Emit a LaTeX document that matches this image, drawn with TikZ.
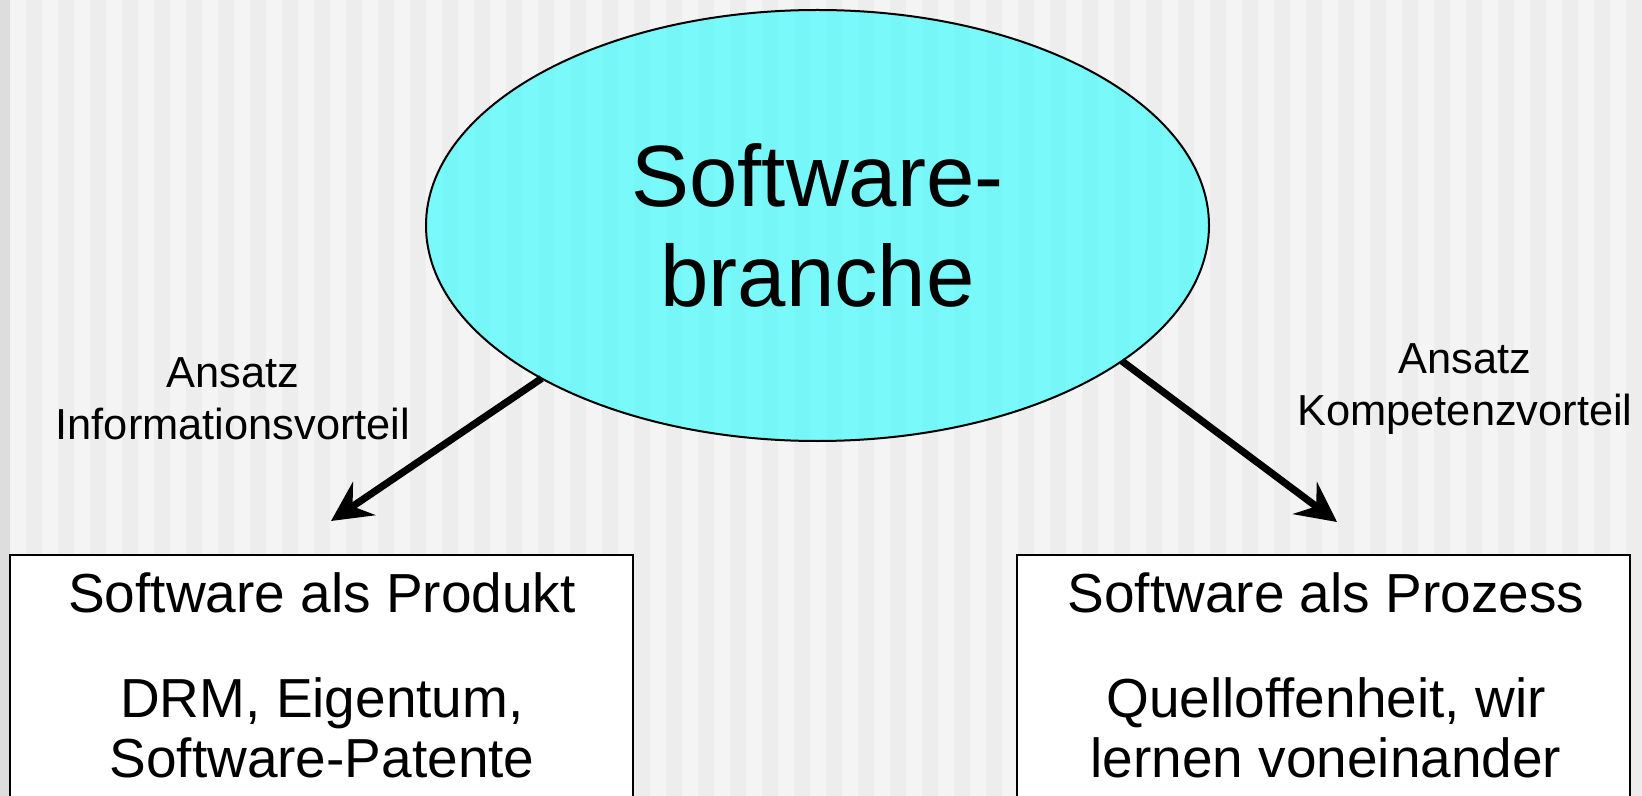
\documentclass[tikz,border=0pt]{standalone}
\usepackage{fontspec}
\setmainfont{Liberation Sans}
\usetikzlibrary{arrows.meta,shapes.geometric}
\definecolor{bglight}{HTML}{F4F4F4}
\definecolor{bgdark}{HTML}{EDEDED}
\definecolor{bgedge}{HTML}{DDDDDD}
\definecolor{aqua}{RGB}{0,255,255}
\begin{document}
\begin{tikzpicture}[x=0.5pt,y=-0.5pt,
  ellbox/.style={ellipse,draw=black,line width=1pt,fill=aqua,fill opacity=0.5,
    draw opacity=1,text opacity=1,minimum width=391.5pt,minimum height=215.5pt,
    inner sep=0pt,outer sep=0pt,align=center,font=\fontsize{43.5}{49.7}\selectfont},
  panel/.style={rectangle,draw=black,line width=1pt,fill=white,inner sep=0pt,outer sep=0pt},
  paneltext/.style={inner sep=0pt,align=center,font=\fontsize{27.5}{30.3}\selectfont},
  lbl/.style={inner sep=0pt,align=center,font=\fontsize{21.7}{26}\selectfont},
  arr/.style={line width=3.6pt,-{Stealth[length=20pt,width=20pt,inset=7pt]}}]
\useasboundingbox (0,0) rectangle (1642,796);
\clip (0,0) rectangle (1642,796);
% striped background
\fill[bglight] (0,0) rectangle (1642,796);
\fill[bgedge] (0,0) rectangle (10,796);
\foreach \i in {0,...,50} \fill[bgdark] ({26+32*\i},0) rectangle ++(16,796);
% central ellipse
\node[ellbox] (sb) at (817.5,225.5) {Software-\\branche};
% panels
\node[panel,minimum width=311.5pt,minimum height=150pt] (pl) at (321.5,705) {};
\node[panel,minimum width=306.5pt,minimum height=150pt] (pr) at (1323.5,705) {};
\node[paneltext,anchor=base] (plt) at (322,612.6) {Software als Produkt};
\node[paneltext] (plb) at (322,728) {DRM, Eigentum,\\Software-Patente};
\node[paneltext,anchor=base] (prt) at (1326,612.6) {Software als Prozess};
\node[paneltext] (prb) at (1326,728) {Quelloffenheit, wir\\lernen voneinander};
% labels
\node[lbl] (ll) at (233,399) {Ansatz\\Informationsvorteil};
\node[lbl] (lr) at (1465,389) {Ansatz\\Kompetenzvorteil};
% arrows
\coordinate (tl) at (331,521);
\coordinate (tr) at (1337,522);
\draw[arr] (sb.209.9) -- (tl);
\draw[arr] (sb.336.4) -- (tr);
\end{tikzpicture}
\end{document}
